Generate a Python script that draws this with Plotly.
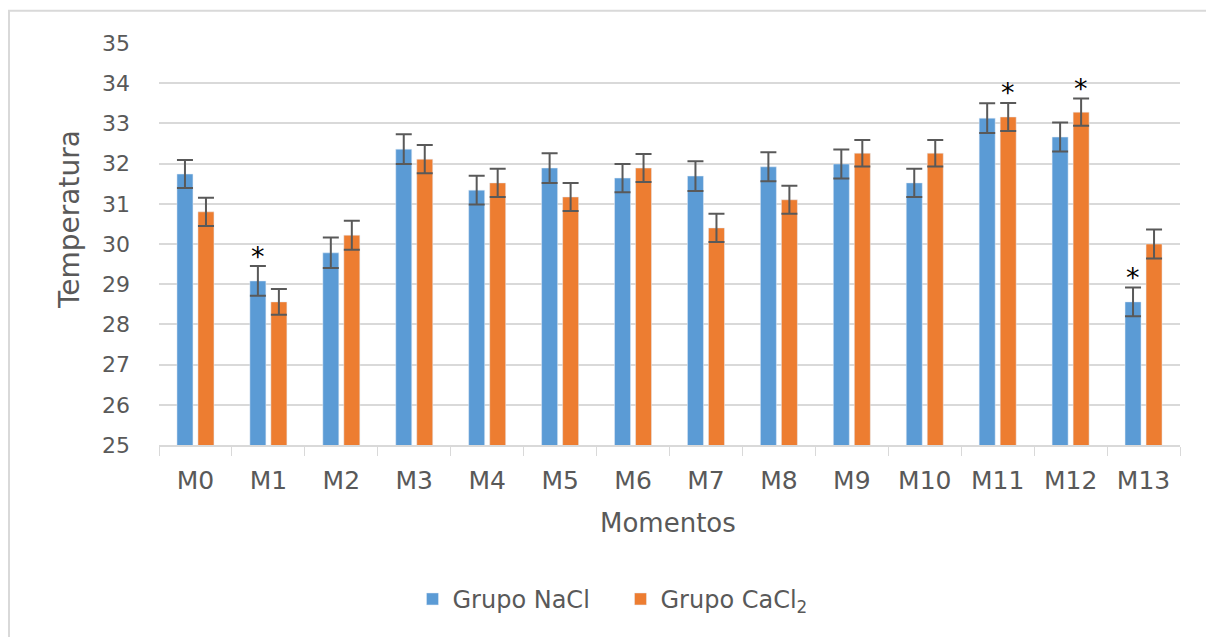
import plotly.graph_objects as go

categories = ["M0", "M1", "M2", "M3", "M4", "M5", "M6", "M7", "M8", "M9", "M10", "M11", "M12", "M13"]
nacl = [31.74, 29.08, 29.78, 32.36, 31.34, 31.89, 31.64, 31.69, 31.92, 31.99, 31.52, 33.13, 32.66, 28.56]
nacl_err = [0.35, 0.37, 0.38, 0.37, 0.36, 0.37, 0.35, 0.37, 0.36, 0.36, 0.35, 0.37, 0.36, 0.36]
cacl2 = [30.80, 28.56, 30.22, 32.11, 31.52, 31.17, 31.89, 30.40, 31.10, 32.26, 32.26, 33.16, 33.28, 30.00]
cacl2_err = [0.35, 0.32, 0.36, 0.35, 0.35, 0.35, 0.35, 0.35, 0.35, 0.33, 0.33, 0.35, 0.34, 0.36]
# significance marks: (category, series index 0=NaCl 1=CaCl2)
stars = [("M1", 0), ("M11", 1), ("M12", 1), ("M13", 0)]
y_ticks = [25, 26, 27, 28, 29, 30, 31, 32, 33, 34, 35]

FONT = "DejaVu Sans"
GRAY = "#595959"
BLUE = "#5B9BD5"
ORANGE = "#ED7D31"

fig = go.Figure()
fig.add_trace(go.Bar(
    x=categories, y=nacl, name="Grupo NaCl", marker_color=BLUE,
    error_y=dict(type="data", array=nacl_err, color=GRAY, thickness=2, width=8),
))
fig.add_trace(go.Bar(
    x=categories, y=cacl2, name="Grupo CaCl<sub>2</sub>", marker_color=ORANGE,
    error_y=dict(type="data", array=cacl2_err, color=GRAY, thickness=2, width=8),
))

annotations = []
for cat, s in stars:
    i = categories.index(cat)
    top = (nacl[i] + nacl_err[i]) if s == 0 else (cacl2[i] + cacl2_err[i])
    annotations.append(dict(
        x=cat, y=top, xref="x", yref="y", text="*", showarrow=False,
        xshift=-10.5 if s == 0 else 10.5, yshift=10, yanchor="middle",
        font=dict(family=FONT, size=27, color="#000000"),
    ))

annotations.append(dict(
    x=-0.087, y=0.56, xref="paper", yref="paper", text="Temperatura", textangle=-90,
    showarrow=False, xanchor="center", yanchor="middle",
    font=dict(family=FONT, size=28, color=GRAY),
))
annotations.append(dict(
    x=0.4985, y=-0.194, xref="paper", yref="paper", text="Momentos",
    showarrow=False, xanchor="center", yanchor="middle",
    font=dict(family=FONT, size=26, color=GRAY),
))

fig.update_layout(
    width=1206, height=629,
    margin=dict(l=151, r=34, t=35, b=192),
    paper_bgcolor="white", plot_bgcolor="white",
    barmode="group", bargap=0.424, bargroupgap=0.238,
    font=dict(family=FONT, color=GRAY),
    showlegend=True,
    legend=dict(
        orientation="h", x=0.452, y=-0.384, xanchor="center", yanchor="middle",
        font=dict(family=FONT, size=24, color=GRAY), itemwidth=30,
        entrywidth=163, entrywidthmode="pixels",
    ),
    annotations=annotations,
    shapes=[dict(
        type="rect", xref="paper", yref="paper",
        x0=(9 - 159) / 1021, x1=1.2, y0=-1.0, y1=(445 - 11) / 401.7,
        line=dict(color="#d9d9d9", width=2), fillcolor="rgba(0,0,0,0)", layer="below",
    )],
)

fig.update_xaxes(
    showline=True, linecolor="#d9d9d9", linewidth=1.5,
    ticks="outside", tickson="boundaries", ticklen=9, tickcolor="#d9d9d9",
    tickfont=dict(family=FONT, size=25, color=GRAY),
    ticklabelstandoff=12, showgrid=False,
)
fig.update_yaxes(
    range=[25, 35], tickvals=y_ticks, showgrid=True, gridcolor="#d9d9d9", gridwidth=1.5,
    zeroline=False, showline=False, ticks="",
    tickfont=dict(family=FONT, size=22, color=GRAY), ticklabelstandoff=28,
)

fig.write_html("out.html")
